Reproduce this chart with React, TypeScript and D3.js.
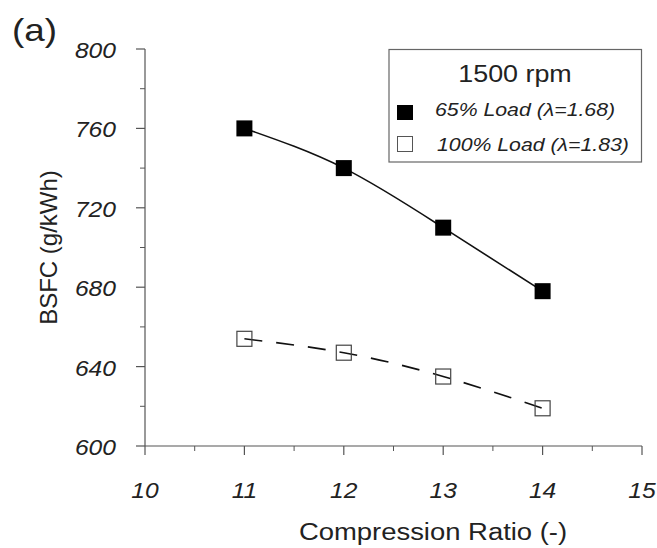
import React from "react";
import * as d3 from "d3";

const compressionRatios = [11, 12, 13, 14];
const load65 = [760, 740, 710, 678];
const load100 = [654, 647, 635, 619];
const xTicks = [10, 11, 12, 13, 14, 15];
const yTicks = [600, 640, 680, 720, 760, 800];
const xMinor = [10.5, 11.5, 12.5, 13.5, 14.5];
const yMinor = [620, 660, 700, 740, 780];

const W = 657, H = 548;
const FONT = "'Liberation Sans', Arial, sans-serif";
const SX = 1.12;

function T(props: { x: number; y: number; size: number; anchor?: string; italic?: boolean; children: React.ReactNode; sx?: number }) {
  return (
    <text
      transform={`translate(${props.x},${props.y}) scale(${props.sx ?? SX},1)`}
      textAnchor={props.anchor || "start"}
      fontSize={props.size}
      fontStyle={props.italic ? "italic" : "normal"}
      fill="#222"
    >
      {props.children}
    </text>
  );
}

export default function App() {
  const x = d3.scaleLinear().domain([10, 15]).range([145, 642]);
  const y = d3.scaleLinear().domain([600, 800]).range([446, 49]);
  const line = d3.line<number>()
    .x((_, i) => x(compressionRatios[i]))
    .y((d) => y(d))
    .curve(d3.curveNatural);
  const axisColor = "#555";
  const ms = 16;
  return (
    <svg width={W} height={H} style={{ position: "absolute", left: 0, top: 0, background: "#fff" }} fontFamily={FONT}>
      <rect width={W} height={H} fill="#fff" />
      <T x={12} y={41} size={32} sx={1.15}>(a)</T>
      {/* y axis */}
      <line x1={x(10)} x2={x(10)} y1={y(800)} y2={y(600)} stroke={axisColor} strokeWidth={1.2} />
      {yTicks.map((t) => (
        <g key={"yt" + t}>
          <line x1={x(10) - 9} x2={x(10)} y1={y(t)} y2={y(t)} stroke={axisColor} strokeWidth={1.2} />
          <T x={116} y={y(t) + 9} anchor="end" size={22} italic>{t}</T>
        </g>
      ))}
      {yMinor.map((t) => (
        <line key={"ym" + t} x1={x(10) - 5} x2={x(10)} y1={y(t)} y2={y(t)} stroke={axisColor} strokeWidth={1} />
      ))}
      {/* x axis */}
      <line x1={x(10)} x2={x(15)} y1={y(600)} y2={y(600)} stroke={axisColor} strokeWidth={1.2} />
      {xTicks.map((t) => (
        <g key={"xt" + t}>
          <line x1={x(t)} x2={x(t)} y1={y(600)} y2={y(600) + 9} stroke={axisColor} strokeWidth={1.2} />
          <T x={x(t)} y={498} anchor="middle" size={22} italic>{t}</T>
        </g>
      ))}
      {xMinor.map((t) => (
        <line key={"xm" + t} x1={x(t)} x2={x(t)} y1={y(600)} y2={y(600) + 5} stroke={axisColor} strokeWidth={1} />
      ))}
      <T x={433} y={540} anchor="middle" size={24.5}>Compression Ratio (-)</T>
      <text transform={`translate(57,${(y(600) + y(800)) / 2}) rotate(-90)`} textAnchor="middle" fontSize={24} fill="#222">BSFC (g/kWh)</text>
      {/* lines */}
      <path d={line(load65) || ""} fill="none" stroke="#111" strokeWidth={1.6} />
      <path d={line(load100) || ""} fill="none" stroke="#111" strokeWidth={1.6} strokeDasharray="18,14" />
      {load65.map((v, i) => (
        <rect key={"a" + i} x={x(compressionRatios[i]) - ms / 2} y={y(v) - ms / 2} width={ms} height={ms} fill="#000" />
      ))}
      {load100.map((v, i) => (
        <rect key={"b" + i} x={x(compressionRatios[i]) - ms / 2 + 0.5} y={y(v) - ms / 2 + 0.5} width={ms - 1} height={ms - 1} fill="none" stroke="#444" strokeWidth={1.2} />
      ))}
      {/* legend */}
      <rect x={389} y={49.5} width={252.5} height={112.5} fill="#fff" stroke="#666" strokeWidth={1.2} />
      <T x={515} y={82} anchor="middle" size={24}>1500 rpm</T>
      <rect x={397} y={105} width={16} height={15} fill="#000" />
      <T x={435} y={116} size={19} italic>65% Load (λ=1.68)</T>
      <rect x={397.5} y={136.5} width={15} height={15} fill="none" stroke="#555" strokeWidth={1} />
      <T x={437} y={151} size={19} italic>100% Load (λ=1.83)</T>
    </svg>
  );
}
